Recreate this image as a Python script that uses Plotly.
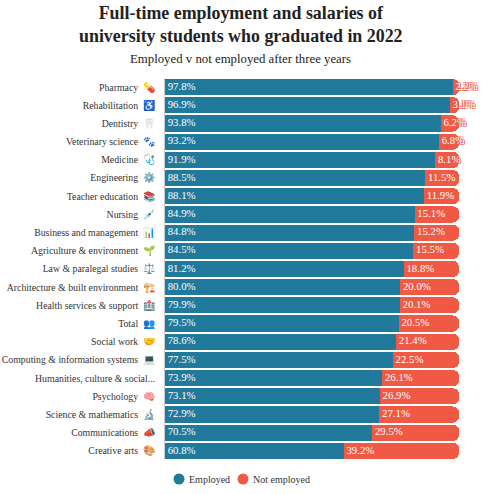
import plotly.graph_objects as go

categories = ["Pharmacy","Rehabilitation","Dentistry","Veterinary science","Medicine","Engineering","Teacher education","Nursing","Business and management","Agriculture & environment","Law & paralegal studies","Architecture & built environment","Health services & support","Total","Social work","Computing & information systems","Humanities, culture & social...","Psychology","Science & mathematics","Communications","Creative arts"]
icons = ["💊","♿","🦷","🐾","🩺","⚙️","📚","💉","📊","🌱","⚖️","🏗️","🏥","👥","🤝","💻","","🧠","🔬","📣","🎨"]
employed = [97.8,96.9,93.8,93.2,91.9,88.5,88.1,84.9,84.8,84.5,81.2,80.0,79.9,79.5,78.6,77.5,73.9,73.1,72.9,70.5,60.8]
not_employed = [2.2,3.1,6.2,6.8,8.1,11.5,11.9,15.1,15.2,15.5,18.8,20.0,20.1,20.5,21.4,22.5,26.1,26.9,27.1,29.5,39.2]
series_names = ["Employed", "Not employed"]
BLUE = "#217a9b"
RED = "#f05a45"
FONT = "Liberation Serif"
HALO = ",".join(f"{a}px {b}px 0 {RED}" for a in (-1, 1) for b in (-1, 1))
NB = "\u00a0"

ticktext = [f'{c}{NB} <span style="font-size:10px">{i}</span>' if i else c for c, i in zip(categories, icons)]

fig = go.Figure()
fig.add_trace(go.Bar(y=categories, x=employed, orientation="h", name=series_names[0], marker=dict(color=BLUE, line_width=0), showlegend=False, hoverinfo="skip"))
fig.add_trace(go.Bar(y=categories, x=not_employed, orientation="h", name=series_names[1], marker=dict(color=RED, line_width=0), showlegend=False, hoverinfo="skip"))
fig.add_trace(go.Scatter(y=categories, x=[0]*len(categories), mode="text", text=[f"{NB}{v:.1f}%" for v in employed], textposition="middle right",
    textfont=dict(color="white", size=10.8, family=FONT), showlegend=False, hoverinfo="skip", cliponaxis=False))
fig.add_trace(go.Scatter(y=categories, x=employed, mode="text", text=[f"{NB}{v:.1f}%" for v in not_employed], textposition="middle right",
    textfont=dict(color="white", size=10.8, family=FONT, shadow=HALO), showlegend=False, hoverinfo="skip", cliponaxis=False))

legend_x = [(179-165)/294, (243-165)/294]
legend_y = -(479-460)/382
shapes = [dict(type="circle", xref="paper", yref="paper", xsizemode="pixel", ysizemode="pixel", xanchor=x, yanchor=legend_y,
               x0=-5.5, x1=5.5, y0=-5.5, y1=5.5, fillcolor=c, line_width=0) for x, c in zip(legend_x, (BLUE, RED))]
legend_notes = [dict(text=n, xref="paper", yref="paper", x=x, xshift=8, xanchor="left", y=legend_y, yanchor="middle", showarrow=False,
                     font=dict(size=10, color="#333", family=FONT)) for x, n in zip(legend_x, series_names)]

fig.update_layout(width=486, height=494, autosize=False, barmode="stack", bargap=0.11, barcornerradius=6,
    paper_bgcolor="white", plot_bgcolor="white", font=dict(family=FONT, color="#333"), showlegend=False,
    margin=dict(l=165, r=27, t=78, b=34), shapes=shapes,
    xaxis=dict(range=[0,100], visible=False, fixedrange=True),
    yaxis=dict(range=[20.5,-0.5], categoryorder="array", categoryarray=categories, tickmode="array", tickvals=categories, ticktext=ticktext,
        automargin=False, showline=True, linecolor="#ccc", linewidth=1,
        ticks="", tickfont=dict(size=9.8, color="#333", family=FONT), showgrid=False, ticklabelstandoff=7, fixedrange=True),
    annotations=[
        dict(text="<b>Full-time employment and salaries of<br>university students who graduated in 2022</b>", xref="paper", yref="paper", x=0.2585, xanchor="center", y=1.202, yanchor="top", showarrow=False, font=dict(size=17.9, color="#222", family=FONT)),
        dict(text="Employed v not employed after three years", xref="paper", yref="paper", x=0.2585, xanchor="center", y=1.05, yanchor="middle", showarrow=False, font=dict(size=12.8, color="#222", family=FONT)),
    ] + legend_notes)
fig.write_html("out.html", post_script="document.body.style.margin='0';", config={"displayModeBar": False})
